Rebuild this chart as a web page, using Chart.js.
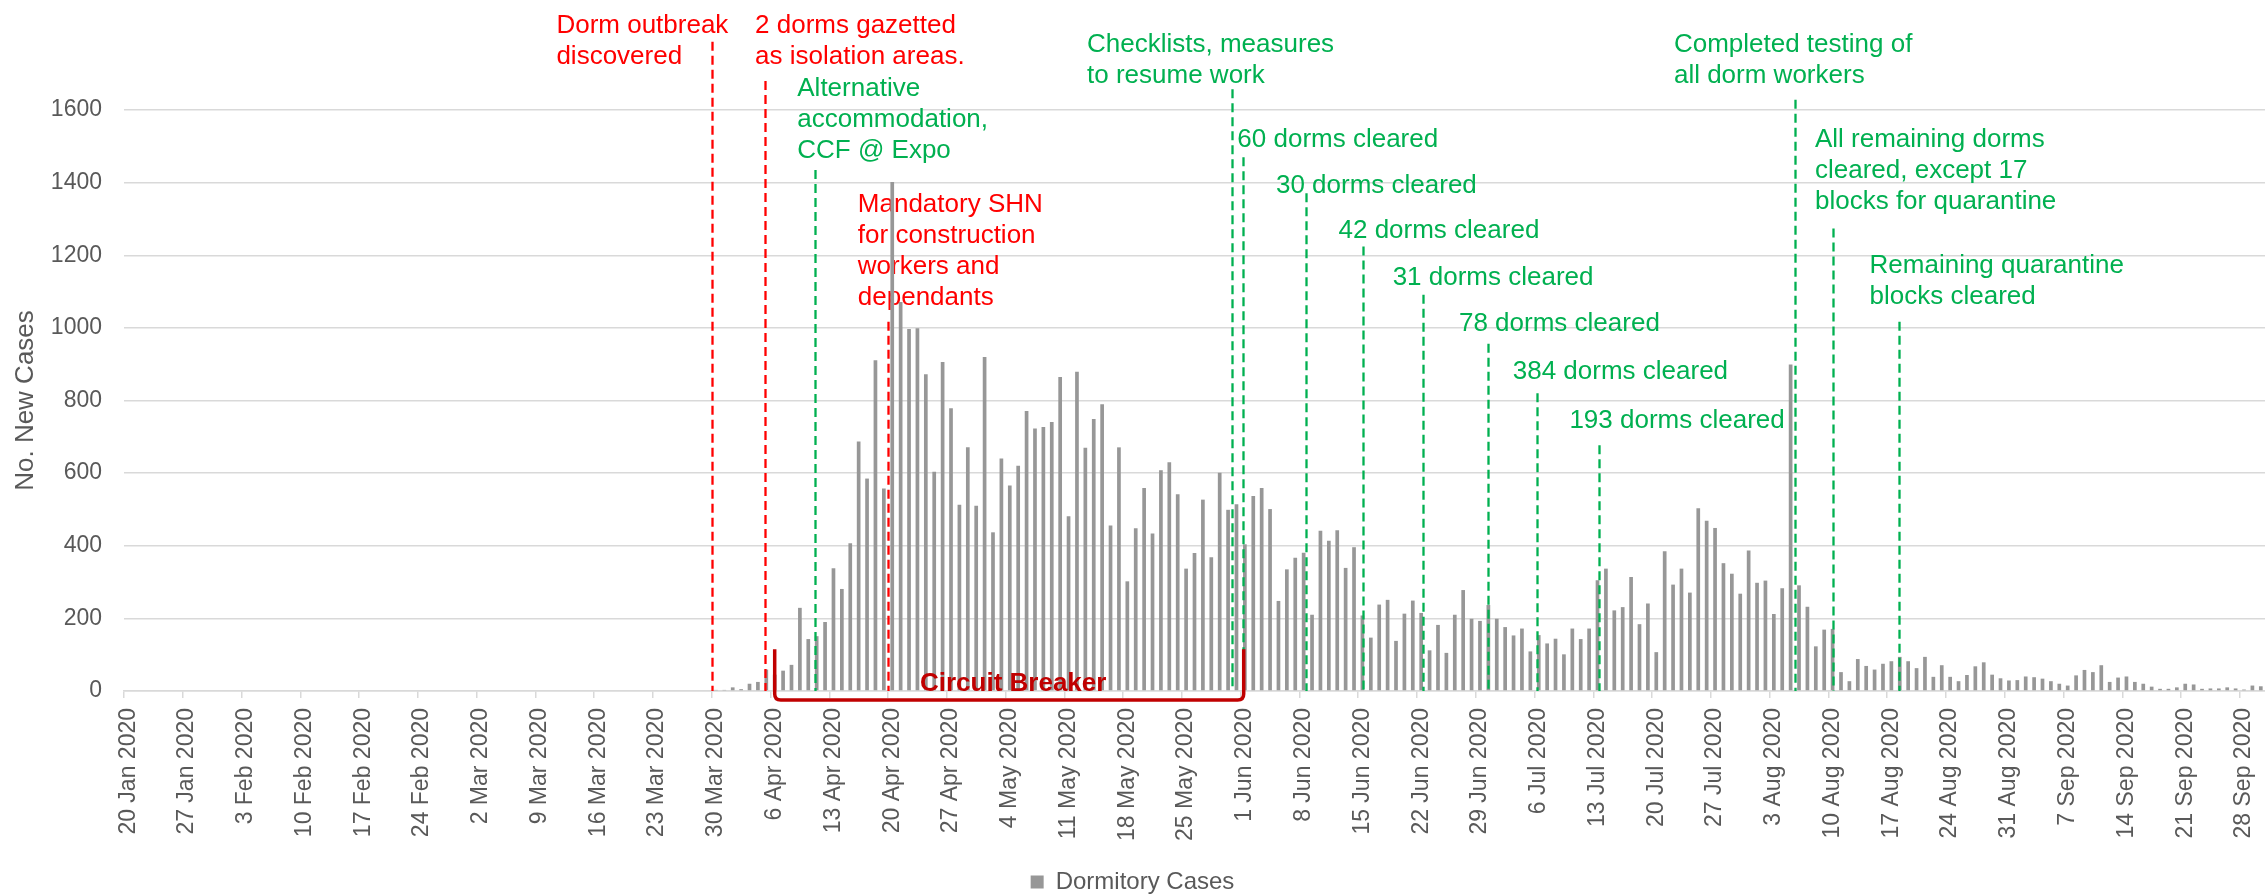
<!DOCTYPE html>
<html>
<head>
<meta charset="utf-8">
<script src="https://cdn.jsdelivr.net/npm/chart.js@4.4.1/dist/chart.umd.min.js"></script>
<style>
  html, body { margin: 0; padding: 0; background: #fff; }
</style>
</head>
<body>
<canvas id="myChart" width="2265" height="894"></canvas>
<script>
// daily dormitory cases, one array per month (January starts on the 20th)
const casesJan = [0,0,0,0,0,0,0,0,0,0,0,0];
const casesFeb = [0,0,0,0,0,0,0,0,0,0,0,0,0,0,0,0,0,0,0,0,0,0,0,0,0,0,0,0,0];
const casesMar = [0,0,0,0,0,0,0,0,0,0,0,0,0,0,0,0,0,0,0,0,0,0,0,0,0,0,0,0,0,3,3];
const casesApr = [10,5,20,25,59,45,56,72,229,143,151,190,338,281,407,687,585,911,558,1402,
                  1071,997,999,872,604,906,779,513,671,510];
const casesMay = [920,437,640,566,620,771,723,727,741,865,481,879,670,749,790,456,671,302,448,559,
                  434,608,630,542,337,380,527,368,601,499,514];
const casesJun = [404,537,559,501,248,335,367,381,210,441,414,443,339,396,208,147,238,251,138,213,
                  249,215,112,182,105,210,278,199,193,237];
const casesJul = [199,176,153,172,109,154,131,144,101,172,143,172,305,337,222,231,314,184,241,107,
                  385,293,337,271,503,469,449,352,323,268,387];
const casesAug = [298,304,212,283,899,291,232,123,169,171,52,27,88,69,59,75,82,94,82,63,
                  94,39,71,39,27,44,68,79,45,35,29];
const casesSep = [30,40,38,34,27,20,15,43,58,52,71,25,37,40,25,20,12,6,6,10,
                  20,18,6,7,7,10,7,4,15,13];

const monthNames = ['Jan', 'Feb', 'Mar', 'Apr', 'May', 'Jun', 'Jul', 'Aug', 'Sep'];
const monthCases = [casesJan, casesFeb, casesMar, casesApr, casesMay, casesJun, casesJul, casesAug, casesSep];
const firstDay = 20;
const tickEvery = 7;   // a date label every week

const RED = '#FF0000';
const GREEN = '#00B050';
const DARK_RED = '#C00000';

// day = position in days from the left edge of 20 Jan
const events = [
    { text: ['Dorm outbreak', 'discovered'], color: RED, day: 70.0, top: 1788, textDay: 51.5, textY: 1812 },
    { text: ['2 dorms gazetted', 'as isolation areas.'], color: RED, day: 76.35, top: 1680, textDay: 75.16, textY: 1812 },
    { text: ['Alternative', 'accommodation,', 'CCF @ Expo'], color: GREEN, day: 82.29, top: 1435, textDay: 80.19, textY: 1639 },
    { text: ['Mandatory SHN', 'for construction', 'workers and', 'dependants'], color: RED, day: 91.0, top: 1017, textDay: 87.4, textY: 1320 },
    { text: ['Checklists, measures', 'to resume work'], color: GREEN, day: 132.0, top: 1657, textDay: 114.7, textY: 1759 },
    { text: ['60 dorms cleared'], color: GREEN, day: 133.33, top: 1470, textDay: 132.6, textY: 1499 },
    { text: ['30 dorms cleared'], color: GREEN, day: 140.79, top: 1371, textDay: 137.2, textY: 1372 },
    { text: ['42 dorms cleared'], color: GREEN, day: 147.62, top: 1224, textDay: 144.65, textY: 1248 },
    { text: ['31 dorms cleared'], color: GREEN, day: 154.75, top: 1091, textDay: 151.1, textY: 1118 },
    { text: ['78 dorms cleared'], color: GREEN, day: 162.4, top: 956, textDay: 159.0, textY: 991 },
    { text: ['384 dorms cleared'], color: GREEN, day: 168.34, top: 820, textDay: 165.4, textY: 858 },
    { text: ['193 dorms cleared'], color: GREEN, day: 175.71, top: 677, textDay: 172.15, textY: 723 },
    { text: ['Completed testing of', 'all dorm workers'], color: GREEN, day: 198.97, top: 1628, textDay: 184.6, textY: 1761 },
    { text: ['All remaining dorms', 'cleared, except 17', 'blocks for quarantine'], color: GREEN, day: 203.6, top: 1274, textDay: 201.4, textY: 1499 },
    { text: ['Remaining quarantine', 'blocks cleared'], color: GREEN, day: 211.4, top: 1017, textDay: 207.9, textY: 1150 }
];
const circuitBreaker = { text: 'Circuit Breaker', start: 77.5, end: 133.36, top: 115 };

const labels = [];
const dormCases = [];
monthCases.forEach(function (arr, m) {
    arr.forEach(function (v, i) {
        labels.push(((m === 0 ? firstDay : 1) + i) + ' ' + monthNames[m] + ' 2020');
        dormCases.push(v);
    });
});

const FONT = '"Liberation Sans", Arial, sans-serif';
Chart.defaults.font.family = FONT;
Chart.defaults.color = '#595959';

const eventPlugin = {
    id: 'eventPlugin',
    beforeDatasetsDraw(chart) {
        const { ctx, scales: { x, y } } = chart;
        ctx.save();
        ctx.font = '26px ' + FONT;
        ctx.textAlign = 'left';
        ctx.textBaseline = 'alphabetic';
        events.forEach(function (ev) {
            ctx.fillStyle = ev.color;
            const tx = x.getPixelForValue(ev.textDay - 0.5);
            const ty = y.getPixelForValue(ev.textY);
            ev.text.forEach(function (line, i) {
                ctx.fillText(line, tx, ty + i * 31);
            });
        });
        ctx.restore();
    },
    afterDatasetsDraw(chart) {
        const { ctx, scales: { x, y } } = chart;
        const base = y.getPixelForValue(0);
        ctx.save();
        ctx.lineWidth = 2.3;
        ctx.setLineDash([9, 5]);
        events.forEach(function (ev) {
            const lx = Math.round(x.getPixelForValue(ev.day - 0.5)) + 0.5;
            ctx.strokeStyle = ev.color;
            ctx.beginPath();
            ctx.moveTo(lx, y.getPixelForValue(ev.top));
            ctx.lineTo(lx, base);
            ctx.stroke();
        });

        // circuit breaker bracket
        const xl = x.getPixelForValue(circuitBreaker.start - 0.5);
        const xr = x.getPixelForValue(circuitBreaker.end - 0.5);
        const yt = y.getPixelForValue(circuitBreaker.top);
        const yb = base + 9;
        const r = 6;
        ctx.setLineDash([]);
        ctx.strokeStyle = DARK_RED;
        ctx.lineWidth = 3.5;
        ctx.lineJoin = 'round';
        ctx.beginPath();
        ctx.moveTo(xl, yt);
        ctx.lineTo(xl, yb - r);
        ctx.quadraticCurveTo(xl, yb, xl + r, yb);
        ctx.lineTo(xr - r, yb);
        ctx.quadraticCurveTo(xr, yb, xr, yb - r);
        ctx.lineTo(xr, yt);
        ctx.stroke();

        ctx.fillStyle = DARK_RED;
        ctx.font = 'bold 26px ' + FONT;
        ctx.textAlign = 'center';
        ctx.textBaseline = 'alphabetic';
        ctx.fillText(circuitBreaker.text, (xl + xr) / 2 + 4, base);
        ctx.restore();
    }
};

const ctx = document.getElementById('myChart').getContext('2d');
new Chart(ctx, {
    type: 'bar',
    data: {
        labels: labels,
        datasets: [{
            label: 'Dormitory Cases',
            data: dormCases,
            backgroundColor: '#979797',
            borderWidth: 0,
            barPercentage: 0.44,
            categoryPercentage: 1.0
        }]
    },
    options: {
        responsive: false,
        animation: false,
        layout: {
            autoPadding: false,
            padding: { top: 110, bottom: -10, left: 0, right: 0 }
        },
        scales: {
            x: {
                offset: true,
                grid: {
                    offset: true,
                    drawOnChartArea: false,
                    drawTicks: true,
                    tickLength: 7,
                    lineWidth: 1.5,
                    color: function (c) { return c.index % tickEvery === 0 ? '#D9D9D9' : 'rgba(0,0,0,0)'; }
                },
                border: { display: true, color: '#D9D9D9', width: 1.5 },
                ticks: {
                    autoSkip: false,
                    minRotation: 90,
                    maxRotation: 90,
                    padding: 10,
                    color: '#595959',
                    font: { size: 23 },
                    callback: function (val, i) {
                        return i % tickEvery === 0 ? this.getLabelForValue(val) : '';
                    }
                },
                afterFit: function (s) {
                    s.height = 169;
                    s.paddingLeft = 0;
                    s.paddingRight = 0;
                }
            },
            y: {
                min: 0,
                max: 1600,
                grid: { color: '#D9D9D9', lineWidth: 1.5, drawTicks: false },
                border: { display: false },
                ticks: {
                    stepSize: 200,
                    padding: 22,
                    color: '#595959',
                    font: { size: 23 },
                    callback: function (v) { return String(v); }
                },
                title: {
                    display: true,
                    text: 'No. New Cases',
                    color: '#595959',
                    font: { size: 26 },
                    padding: { top: 10, bottom: 4 }
                },
                afterFit: function (s) {
                    s.width = 124;
                }
            }
        },
        plugins: {
            legend: {
                display: true,
                position: 'bottom',
                labels: {
                    color: '#595959',
                    font: { size: 24 },
                    boxWidth: 13,
                    boxHeight: 13,
                    padding: 10
                }
            },
            tooltip: { enabled: false }
        }
    },
    plugins: [eventPlugin]
});
</script>
</body>
</html>
